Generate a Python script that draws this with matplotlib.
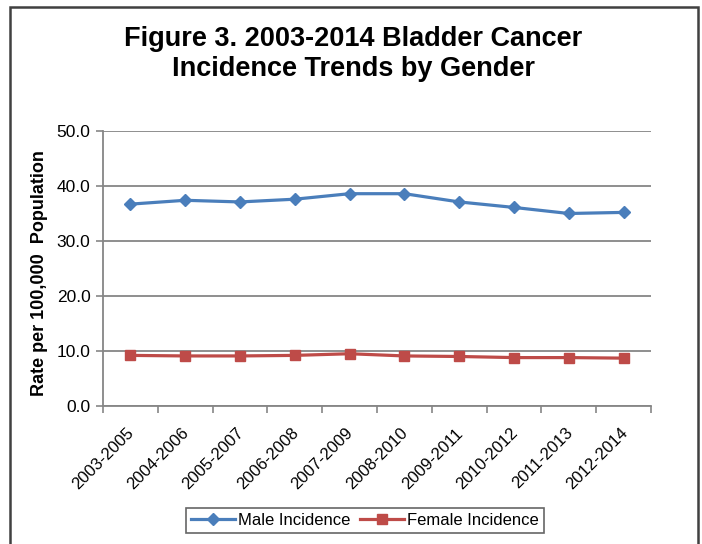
import matplotlib.pyplot as plt
import matplotlib.transforms as mtransforms
from matplotlib.patches import Rectangle

periods = ["2003-2005", "2004-2006", "2005-2007", "2006-2008", "2007-2009",
           "2008-2010", "2009-2011", "2010-2012", "2011-2013", "2012-2014"]
male = [36.7, 37.4, 37.1, 37.6, 38.6, 38.6, 37.1, 36.1, 35.0, 35.2]
female = [9.2, 9.1, 9.1, 9.2, 9.5, 9.1, 9.0, 8.8, 8.8, 8.7]

plt.rcParams['font.family'] = ['Liberation Sans', 'DejaVu Sans']

fig = plt.figure(figsize=(7.02, 5.44), dpi=100)
ax = fig.add_axes([0.1467, 0.2537, 0.7807, 0.5055])

x = list(range(len(periods)))
ax.plot(x, male, color="#4A7EBB", lw=2.3, marker="D", ms=6,
        label="Male Incidence")
ax.plot(x, female, color="#BE4B48", lw=2.3, marker="s", ms=7,
        label="Female Incidence")

ax.set_xlim(-0.5, len(periods) - 0.5)
ax.set_ylim(0, 50)
ax.set_yticks([0, 10, 20, 30, 40, 50])
ax.set_yticklabels([f"{v:.1f}" for v in [0, 10, 20, 30, 40, 50]], fontsize=12.5)
ax.set_xticks(x)
ax.set_xticklabels(periods, rotation=45, ha="right", rotation_mode="anchor",
                   fontsize=12)
ax.tick_params(axis="x", length=0, pad=14)
# nudge the slanted labels a bit to the left
shift = mtransforms.ScaledTranslation(-4 / 100, 0, fig.dpi_scale_trans)
for lbl in ax.get_xticklabels():
    lbl.set_transform(lbl.get_transform() + shift)
ax.set_xticks([i - 0.5 for i in range(len(periods) + 1)], minor=True)
ax.tick_params(axis="x", which="minor", length=5, color="#868686", width=1.2)
ax.tick_params(axis="y", length=5, color="#868686", width=1.2, pad=4)

ax.grid(axis="y", color="#868686", lw=1.3)
ax.set_axisbelow(True)
for s in ["top", "right"]:
    ax.spines[s].set_visible(False)
for s in ["left", "bottom"]:
    ax.spines[s].set_color("#868686")
    ax.spines[s].set_linewidth(1.3)

ax.set_ylabel("Rate per 100,000  Population", fontsize=13, fontweight="bold",
              labelpad=6)
ax.yaxis.label.set_y(0.484)

fig.text(0.503, 0.9, "Figure 3. 2003-2014 Bladder Cancer\nIncidence Trends by Gender",
         ha="center", va="center", fontsize=19.5, fontweight="bold",
         linespacing=1.2)

leg = fig.legend(loc="center", bbox_to_anchor=(0.52, 0.044), ncol=2,
                 fontsize=12, frameon=True, fancybox=False, handlelength=2.6,
                 columnspacing=0.6, handletextpad=0.2, borderpad=0.3)
leg.get_frame().set_edgecolor("#404040")
leg.get_frame().set_linewidth(1.2)

# outer chart border
fig.patches.append(Rectangle((0.0142, -0.05), 0.98, 1.037, transform=fig.transFigure,
                             fill=False, edgecolor="#404040", lw=1.8))

fig.savefig("out.png", dpi=100)
